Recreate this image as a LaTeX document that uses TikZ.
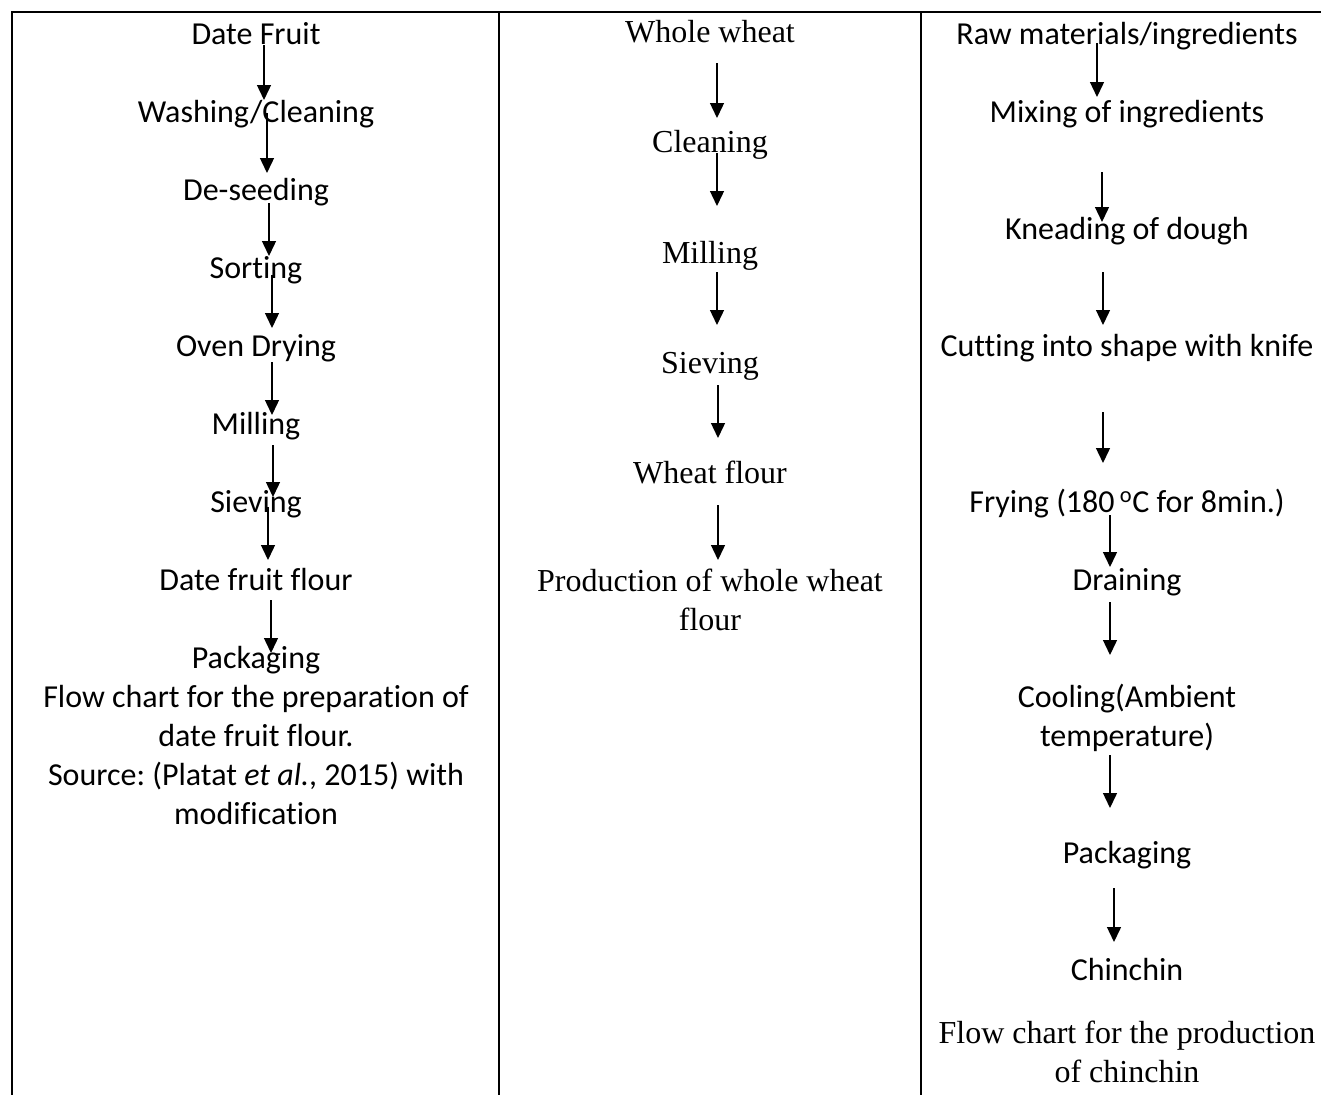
\documentclass[tikz,border=0pt]{standalone}
\usepackage{fontspec}
\setmainfont{Carlito}[Ligatures=NoCommon]
\newfontfamily\timesfont{Liberation Serif}
\frenchspacing
\usetikzlibrary{arrows.meta,positioning}

\tikzset{
  steptext/.style={anchor=base,inner sep=0pt,align=center,font=\fontsize{32}{39}\selectfont},
  serifstep/.style={anchor=base,inner sep=0pt,align=center,font=\timesfont\fontsize{32}{39}\selectfont},
  flow/.style={-{Triangle[width=14pt,length=15pt]},line width=1.4pt},
  tablerule/.style={line width=2pt}
}

\begin{document}
\begin{tikzpicture}[x=1pt,y=-1pt]
\useasboundingbox (0,0) rectangle (1321,1095);

% table lines
\draw[tablerule] (12,12) -- (1321,12);
\draw[tablerule] (12,11) -- (12,1095);
\draw[tablerule] (499,12) -- (499,1095);
\draw[tablerule] (921,12) -- (921,1095);

% date fruit flour (multi-line nodes sit on their last line)
\node[steptext] (df)    at (256,44)  {Date Fruit};
\node[steptext] (wash)  at (256,122) {Washing/Cleaning};
\node[steptext] (seed)  at (256,200) {De-seeding};
\node[steptext] (sort)  at (256,278) {Sorting};
\node[steptext] (oven)  at (256,356) {Oven Drying};
\node[steptext] (mill)  at (256,434) {Milling};
\node[steptext] (siev)  at (256,512) {Sieving};
\node[steptext] (dff)   at (256,590) {Date fruit flour};
\node[steptext] (pack)  at (256,668) {Packaging};
\node[steptext] (capl)  at (256,824) {Flow chart for the preparation of\\date fruit flour.\\Source: (Platat \textit{et al.}, 2015) with\\modification};

\foreach \x/\a/\b [count=\i] in {264/45/100,267/113/173,269/203/256,272/275/328,272/362/415,273/445/497,268/507/560,271/600/653}{
  \coordinate (l\i a) at (\x,\a);
  \coordinate (l\i b) at (\x,\b);
  \draw[flow] (l\i a) -- (l\i b);
}

% whole wheat flour
\node[serifstep] (ww)    at (710,42)  {Whole wheat};
\node[serifstep] (clean) at (710,152) {Cleaning};
\node[serifstep] (wmill) at (710,263) {Milling};
\node[serifstep] (wsiev) at (710,373) {Sieving};
\node[serifstep] (wf)    at (710,483) {Wheat flour};
\node[serifstep] (prod)  at (710,630) {Production of whole wheat\\flour};

\foreach \x/\a/\b [count=\i] in {717/63/118,717/153/206,717/272/325,718/385/438,718/505/560}{
  \coordinate (m\i a) at (\x,\a);
  \coordinate (m\i b) at (\x,\b);
  \draw[flow] (m\i a) -- (m\i b);
}

% chinchin
\node[steptext] (raw)   at (1127,44)  {Raw materials/ingredients};
\node[steptext] (mix)   at (1127,122) {Mixing of ingredients};
\node[steptext] (knead) at (1127,239) {Kneading of dough};
\node[steptext] (cut)   at (1127,356) {Cutting into shape with knife};
\node[steptext] (fry)   at (1127,512) {Frying (180\,\textsuperscript{o}C for 8min.)};
\node[steptext] (drain) at (1127,590) {Draining};
\node[steptext] (cool)  at (1127,746) {Cooling(Ambient\\temperature)};
\node[steptext] (rpack) at (1127,863) {Packaging};
\node[steptext] (chin)  at (1127,980) {Chinchin};
\node[serifstep] (capr) at (1127,1082) {Flow chart for the production\\of chinchin};

\foreach \x/\a/\b [count=\i] in {1097/43/97,1102/172/222,1103/272/325,1103/412/463,1110/515/567,1110/602/655,1110/755/808,1114/888/942}{
  \coordinate (r\i a) at (\x,\a);
  \coordinate (r\i b) at (\x,\b);
  \draw[flow] (r\i a) -- (r\i b);
}
\end{tikzpicture}
\end{document}
